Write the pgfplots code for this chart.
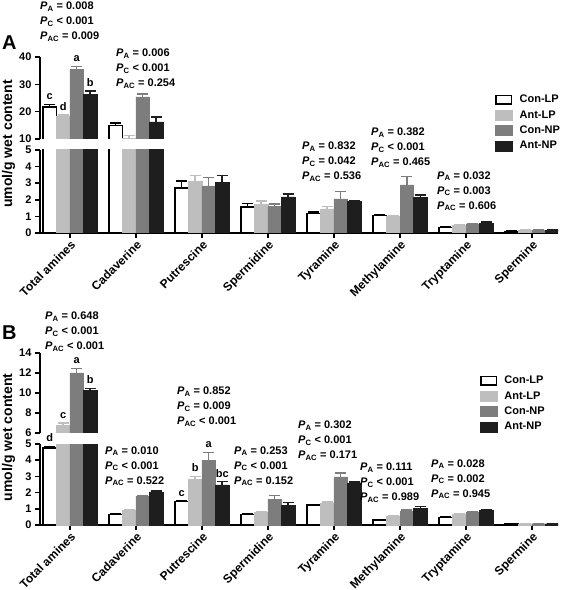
\documentclass[border=0pt]{standalone}
\usepackage{fontspec}
\setmainfont{Liberation Sans}
\usepackage{pgfplots}
\usepackage{pgfplotstable}
\pgfplotsset{compat=1.18}
\definecolor{cAL}{RGB}{190,190,190}
\definecolor{cCN}{RGB}{125,125,125}
\definecolor{cAN}{RGB}{30,30,30}

\pgfplotstableread{
x cl cle al ale cn cne an ane
0 21.7 1.0 18.5 0.3 35.6 1.0 26.4 1.1
1 15.0 0.9 10.3 0.9 25.4 1.0 16.3 1.8
2 2.70 0.42 3.12 0.35 2.84 0.50 3.05 0.40
3 1.57 0.20 1.72 0.20 1.60 0.15 2.18 0.16
4 1.17 0.10 1.45 0.15 2.05 0.45 1.90 0.04
5 1.04 0.08 1.00 0.04 2.90 0.50 2.14 0.16
6 0.34 0.05 0.48 0.03 0.55 0.03 0.60 0.06
7 0.10 0.02 0.15 0.02 0.17 0.02 0.18 0.02
}\dataA

\pgfplotstableread{
x cl cle al ale cn cne an ane
0 4.75 0.10 6.75 0.25 12.00 0.45 10.27 0.20
1 0.64 0.05 0.90 0.04 1.77 0.05 2.05 0.05
2 1.45 0.06 2.80 0.20 4.00 0.48 2.47 0.20
3 0.66 0.03 0.77 0.04 1.60 0.22 1.23 0.15
4 1.22 0.06 1.36 0.05 2.97 0.24 2.55 0.10
5 0.30 0.04 0.56 0.03 0.86 0.08 1.03 0.10
6 0.46 0.04 0.66 0.03 0.80 0.03 0.90 0.03
7 0.06 0.01 0.08 0.01 0.08 0.01 0.08 0.01
}\dataB

\newcommand{\fs}{\fontsize{11}{13}\selectfont\bfseries}
\newcommand{\Pl}[2]{{\itshape P}\textsubscript{#1} #2}
\newcommand{\ann}[5]{%
  \node[anchor=base west,inner sep=0pt,font=\fs] at (#1pt,{590pt-#2pt}) {\Pl{A}{#3}};
  \node[anchor=base west,inner sep=0pt,font=\fs] at (#1pt,{590pt-#2pt-15pt}) {\Pl{C}{#4}};
  \node[anchor=base west,inner sep=0pt,font=\fs] at (#1pt,{590pt-#2pt-30pt}) {\Pl{AC}{#5}};
}

\tikzset{lt/.style={anchor=base, font=\fs, inner sep=0pt, yshift=4.5pt}}

\pgfplotsset{
  serie/.style={fill=#1, draw=#1, line width=0.4pt,
    error bars/y dir=plus, error bars/y explicit,
    error bars/error bar style={draw=#1, line width=1.5pt},
    error bars/error mark options={draw=#1, rotate=90, mark size=5.5pt, line width=1.5pt},
    legend image code/.code={\draw[fill=#1,draw=#1] (0pt,-5pt) rectangle (17pt,5pt);}},
  conlp/.style={fill=white, draw=black, line width=1.5pt,
    error bars/y dir=plus, error bars/y explicit,
    error bars/error bar style={draw=black, line width=1.5pt},
    error bars/error mark options={draw=black, rotate=90, mark size=5.5pt, line width=1.5pt},
    legend image code/.code={\draw[fill=white,draw=black,line width=1.5pt] (0.75pt,-4.25pt) rectangle (16.25pt,4.25pt);}},
  brk/.style={scale only axis, width=518pt, xmin=-0.4545, xmax=7.394,
    ybar=0pt, bar width=13.5pt, clip mode=individual,
    tick align=outside, major tick length=5pt,
    axis line style={line width=1.5pt},
    every tick/.style={line width=1.5pt, black},
    ticklabel style={font=\fs},
    /pgf/number format/assume math mode=true,
    axis y line*=left},
  frame/.style={brk, axis x line=none, xtick=\empty},
  barsonly/.style={brk, hide axis, ymin=0},
  lower/.style={brk, axis x line*=bottom, ymin=0, ymax=5, ytick={0,1,2,3,4,5},
    xtick={0,...,7},
    xticklabels={Total amines,Cadaverine,Putrescine,Spermidine,Tyramine,Methylamine,Tryptamine,Spermine},
    xticklabel style={rotate=45, anchor=north east, inner sep=1pt, font=\fontsize{12}{14}\selectfont\bfseries},
    legend cell align=left},
  leg/.style={legend style={at={#1}, anchor=north west, draw=none, fill=none,
    font=\fs, row sep=2.2pt, inner sep=0pt,
    /tikz/every odd column/.style={column sep=5pt}}},
}

\begin{document}
\begin{tikzpicture}
\useasboundingbox (0,0) rectangle (567pt,590pt);

% ---------------- Panel A ----------------
% upper segment frame (10-40)
\begin{axis}[frame, at={(40pt,451pt)}, anchor=south west, height=82pt,
  ymin=10, ymax=40, ytick={10,20,30,40}]
\end{axis}
% upper segment bars, drawn on a 0-40 scale and clipped above 10
\begin{scope}
\clip (30pt,451pt) rectangle (567pt,590pt);
\begin{axis}[barsonly, at={(40pt,423.667pt)}, anchor=south west, height=109.333pt, ymax=40]
\addplot[conlp] table[x=x,y=cl,y error=cle]{\dataA};
\addplot[serie=cAL] table[x=x,y=al,y error=ale]{\dataA};
\addplot[serie=cCN] table[x=x,y=cn,y error=cne]{\dataA};
\addplot[serie=cAN] table[x=x,y=an,y error=ane]{\dataA};
\node[lt,xshift=-20.25pt] at (axis cs:0,22.7) {c};
\node[lt,xshift=-6.75pt] at (axis cs:0,18.8) {d};
\node[lt,xshift=6.75pt] at (axis cs:0,36.6) {a};
\node[lt,xshift=20.25pt] at (axis cs:0,27.5) {b};
\end{axis}
\end{scope}

\begin{axis}[lower, at={(40pt,357pt)}, anchor=south west, height=83pt,
  leg={(0.8784,1.687)}]
\addplot[conlp] table[x=x,y=cl,y error=cle]{\dataA};
\addplot[serie=cAL] table[x=x,y=al,y error=ale]{\dataA};
\addplot[serie=cCN] table[x=x,y=cn,y error=cne]{\dataA};
\addplot[serie=cAN] table[x=x,y=an,y error=ane]{\dataA};
\legend{Con-LP,Ant-LP,Con-NP,Ant-NP}
\end{axis}

% ---------------- Panel B ----------------
\begin{axis}[frame, at={(40pt,157pt)}, anchor=south west, height=80pt,
  ymin=6, ymax=14, ytick={6,8,10,12,14}]
\end{axis}
\begin{scope}
\clip (30pt,157pt) rectangle (567pt,300pt);
\begin{axis}[barsonly, at={(40pt,97pt)}, anchor=south west, height=140pt, ymax=14]
\addplot[conlp] table[x=x,y=cl,y error=cle]{\dataB};
\addplot[serie=cAL] table[x=x,y=al,y error=ale]{\dataB};
\addplot[serie=cCN] table[x=x,y=cn,y error=cne]{\dataB};
\addplot[serie=cAN] table[x=x,y=an,y error=ane]{\dataB};
\node[lt,xshift=-6.75pt] at (axis cs:0,7.0) {c};
\node[lt,xshift=6.75pt] at (axis cs:0,12.45) {a};
\node[lt,xshift=20.25pt] at (axis cs:0,10.47) {b};
\end{axis}
\end{scope}

\begin{axis}[lower, at={(40pt,65pt)}, anchor=south west, height=81pt,
  leg={(0.849,1.864)}]
\addplot[conlp] table[x=x,y=cl,y error=cle]{\dataB};
\addplot[serie=cAL] table[x=x,y=al,y error=ale]{\dataB};
\addplot[serie=cCN] table[x=x,y=cn,y error=cne]{\dataB};
\addplot[serie=cAN] table[x=x,y=an,y error=ane]{\dataB};
\legend{Con-LP,Ant-LP,Con-NP,Ant-NP}
\node[lt,xshift=-20.25pt] at (axis cs:0,4.85) {d};
\node[lt,xshift=-20.25pt] at (axis cs:2,1.51) {c};
\node[lt,xshift=-6.75pt] at (axis cs:2,3.0) {b};
\node[lt,xshift=6.75pt] at (axis cs:2,4.48) {a};
\node[lt,xshift=20.25pt] at (axis cs:2,2.67) {bc};
\end{axis}

% panel letters and y labels
\node[anchor=base west,inner sep=0pt,font=\fontsize{20}{22}\selectfont\bfseries] at (2pt,540pt) {A};
\node[anchor=base west,inner sep=0pt,font=\fontsize{20}{22}\selectfont\bfseries] at (2pt,250pt) {B};
\node[rotate=90,font=\fontsize{14}{16}\selectfont\bfseries,inner sep=0pt] at (8.5pt,446pt) {umol/g wet content};
\node[rotate=90,font=\fontsize{14}{16}\selectfont\bfseries,inner sep=0pt] at (8.5pt,152.5pt) {umol/g wet content};

% P-value annotations (panel A)
\ann{40}{9.5}{= 0.008}{< 0.001}{= 0.009}
\ann{116}{56.5}{= 0.006}{< 0.001}{= 0.254}
\ann{302}{150}{= 0.832}{= 0.042}{= 0.536}
\ann{371}{135.7}{= 0.382}{< 0.001}{= 0.465}
\ann{437}{179.3}{= 0.032}{= 0.003}{= 0.606}
% P-value annotations (panel B)
\ann{45}{320}{= 0.648}{< 0.001}{< 0.001}
\ann{105}{454.3}{= 0.010}{< 0.001}{= 0.522}
\ann{177}{395}{= 0.852}{= 0.009}{< 0.001}
\ann{234}{454.3}{= 0.253}{< 0.001}{= 0.152}
\ann{298}{429}{= 0.302}{< 0.001}{= 0.171}
\ann{360}{470.7}{= 0.111}{< 0.001}{= 0.989}
\ann{431}{467.3}{= 0.028}{= 0.002}{= 0.945}
\end{tikzpicture}
\end{document}
